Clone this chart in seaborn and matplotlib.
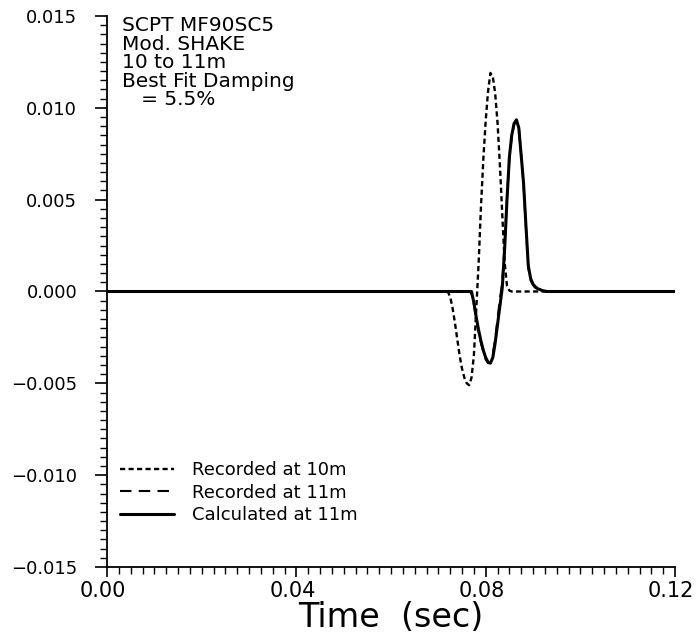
import numpy as np
import pandas as pd
import matplotlib.pyplot as plt
import matplotlib.ticker as mticker
import matplotlib.transforms as mtrans
import seaborn as sns

# time axis (sec) for the pulse region, plus the flat ends
time = [0.0000, 0.0700, 0.0705, 0.0710, 0.0715, 0.0720, 0.0725, 0.0730, 0.0735,
        0.0740, 0.0745, 0.0750, 0.0755, 0.0760, 0.0765, 0.0770, 0.0775, 0.0780,
        0.0785, 0.0790, 0.0795, 0.0800, 0.0805, 0.0810, 0.0815, 0.0820, 0.0825,
        0.0830, 0.0835, 0.0840, 0.0845, 0.0850, 0.0855, 0.0860, 0.0865, 0.0870,
        0.0875, 0.0880, 0.0885, 0.0890, 0.0895, 0.0900, 0.0905, 0.0910, 0.0915,
        0.0920, 0.0925, 0.0930, 0.0940, 0.0950, 0.1200]

# amplitudes in units of 1e-3
rec_10m = [0.0, 0.0, 0.0, 0.0, 0.0, 0.0, -0.3, -0.9, -1.7,
           -2.6, -3.5, -4.2, -4.7, -5.0, -5.1, -4.7, -3.5, -1.0,
           1.5, 4.6, 7.2, 9.3, 10.9, 11.9, 11.7, 10.8, 9.2,
           6.9, 4.2, 1.6, 0.3, 0.05, 0.0, 0.0, 0.0, 0.0,
           0.0, 0.0, 0.0, 0.0, 0.0, 0.0, 0.0, 0.0, 0.0,
           0.0, 0.0, 0.0, 0.0, 0.0, 0.0]

rec_11m = [0.0, 0.0, 0.0, 0.0, 0.0, 0.0, 0.0, 0.0, 0.0,
           0.0, 0.0, 0.0, 0.0, 0.0, 0.0, -0.1, -0.7, -1.5,
           -2.2, -2.8, -3.3, -3.7, -3.9, -3.9, -3.4, -2.6, -1.5,
           -0.4, 0.5, 2.6, 5.1, 7.2, 8.4, 9.1, 9.3, 8.9,
           7.4, 5.8, 3.5, 1.3, 0.6, 0.35, 0.2, 0.12, 0.08,
           0.04, 0.02, 0.0, 0.0, 0.0, 0.0]

calc_11m = [0.0, 0.0, 0.0, 0.0, 0.0, 0.0, 0.0, 0.0, 0.0,
            0.0, 0.0, 0.0, 0.0, 0.0, 0.0, 0.0, -0.6, -1.4,
            -2.1, -2.7, -3.2, -3.6, -3.85, -3.9, -3.6, -2.8, -1.8,
            -0.8, 0.2, 2.3, 5.0, 7.3, 8.5, 9.15, 9.35, 8.9,
            7.4, 5.9, 3.6, 1.4, 0.7, 0.4, 0.25, 0.15, 0.1,
            0.05, 0.02, 0.0, 0.0, 0.0, 0.0]

labels = ["Recorded at 10m", "Recorded at 11m", "Calculated at 11m"]
annotation = "SCPT MF90SC5\nMod. SHAKE\n10 to 11m\nBest Fit Damping\n   = 5.5%"

df = pd.DataFrame({"time": time,
                   labels[0]: np.array(rec_10m) * 1e-3,
                   labels[1]: np.array(rec_11m) * 1e-3,
                   labels[2]: np.array(calc_11m) * 1e-3})
long = df.melt(id_vars="time", var_name="series", value_name="amp")

sns.set_style("ticks")
plt.rcParams["font.family"] = ["DejaVu Sans"]
plt.rcParams["text.color"] = "black"
plt.rcParams["axes.labelcolor"] = "black"
plt.rcParams["xtick.color"] = "black"
plt.rcParams["ytick.color"] = "black"

fig = plt.figure(figsize=(6.98, 6.35), dpi=100)
ax = fig.add_axes([0.1533, 0.1071, 0.8138, 0.8677])

styles = {labels[0]: ((0, (2.2, 1.4)), 1.7),
          labels[1]: ((0, (5.5, 3.5)), 1.5),
          labels[2]: ("-", 2.2)}
for name in labels:
    ls, lw = styles[name]
    sns.lineplot(data=long[long["series"] == name], x="time", y="amp",
                 color="black", linestyle=ls, linewidth=lw, label=name,
                 ax=ax, estimator=None)

ax.set_xlim(0, 0.12)
ax.set_ylim(-0.015, 0.015)
ax.xaxis.set_major_locator(mticker.MultipleLocator(0.04))
ax.xaxis.set_minor_locator(mticker.MultipleLocator(0.0025))
ax.yaxis.set_major_locator(mticker.MultipleLocator(0.005))
ax.yaxis.set_minor_locator(mticker.MultipleLocator(0.0005))
ax.xaxis.set_major_formatter(mticker.FormatStrFormatter("%.2f"))
ax.yaxis.set_major_formatter(mticker.FuncFormatter(
    lambda v, p: ("%.3f" % v).replace("-", "\u2212") if abs(v) > 1e-9 else "0.000"))

ax.tick_params(axis="y", which="major", direction="out", length=8.5, width=1.2,
               labelsize=13, pad=13)
ax.tick_params(axis="y", which="minor", direction="out", length=5, width=1.0)
ax.tick_params(axis="x", which="major", direction="out", length=7, width=1.2,
               labelsize=15, pad=3)
ax.tick_params(axis="x", which="minor", direction="out", length=5, width=1.0)

# reference tick labels sit a touch left of their ticks
shift = mtrans.ScaledTranslation(-4 / 100, 0, fig.dpi_scale_trans)
for lab in ax.get_xticklabels():
    lab.set_transform(lab.get_transform() + shift)

sns.despine(ax=ax)
for s in ["left", "bottom"]:
    ax.spines[s].set_linewidth(1.3)
    ax.spines[s].set_color("black")

ax.set_xlabel("Time  (sec)", fontsize=24, labelpad=0)
ax.set_ylabel("")

ax.text(0.026, 1.0, annotation, transform=ax.transAxes, fontsize=14.5,
        va="top", ha="left", linespacing=0.97)

ax.legend(loc="lower left", bbox_to_anchor=(0.0, 0.055), frameon=False,
          fontsize=13, handlelength=3.0, handletextpad=1.0, labelspacing=0.25,
          borderaxespad=0.3)

fig.savefig("out.png", dpi=100)
